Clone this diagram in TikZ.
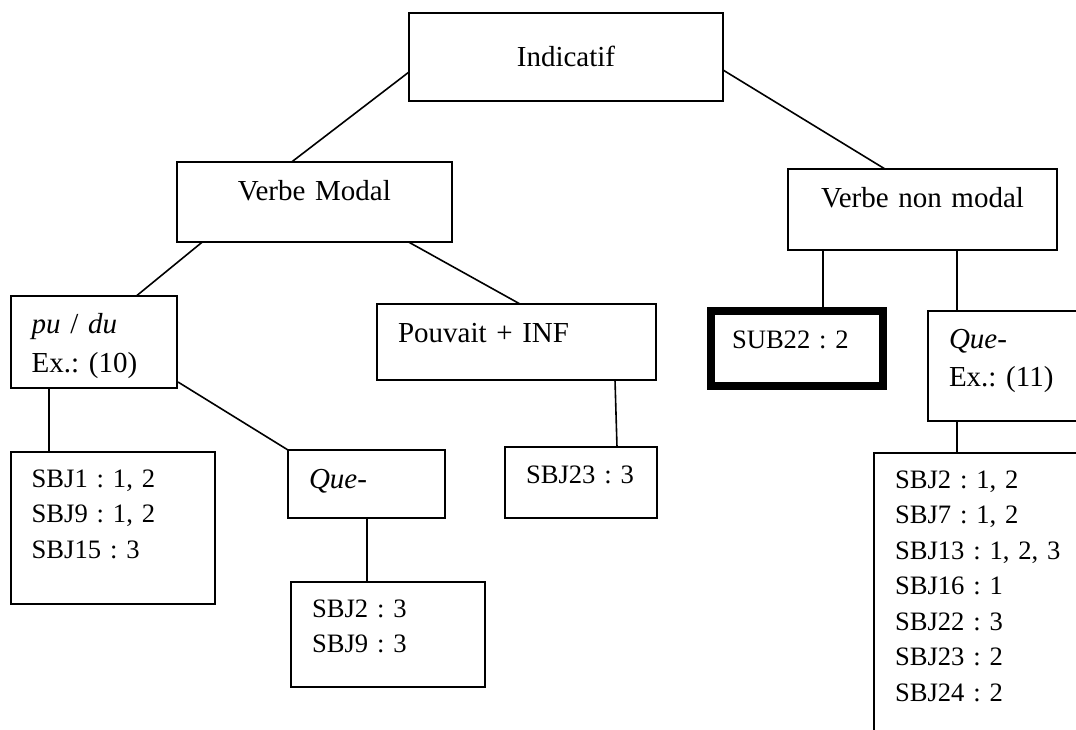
\documentclass[tikz,border=0pt]{standalone}
\usepackage{fontspec}
\setmainfont{Liberation Serif}
\frenchspacing
\usetikzlibrary{calc}
\tikzset{
  box/.style={draw, line width=2pt, anchor=north west, inner xsep=21pt, inner ysep=0pt,
    outer sep=0pt, align=left, font=\fontsize{29}{38.5}\selectfont},
  listbox/.style={box, font=\fontsize{26.6}{35.5}\selectfont},
  link/.style={line width=1.6pt}
}

\begin{document}
\begin{tikzpicture}[x=1pt,y=-1pt]
\clip (0,0) rectangle (1076,729);
\fill[white] (0,0) rectangle (1076,729);
% top of the tree
\node[box, align=center, text width=272pt, text height=54pt, text depth=34.3pt] (indic) at (409,12.7) {Indicatif};
\node[box, align=center, text width=233.3pt, text height=38.3pt, text depth=41.7pt] (vmod) at (176.7,161.7) {Verbe Modal};
\node[box, align=center, text width=227pt, text height=38pt, text depth=43pt] (vnm) at (788,169) {Verbe non modal};

% modal branch
\node[box, text width=124pt, text height=38pt, text depth=54.3pt] (pudu) at (10.7,295.7) {\textit{pu} / \textit{du}\\Ex.: (10)};
\node[box, text width=237pt, text height=38pt, text depth=38pt] (pouv) at (377,304) {Pouvait + INF};
\node[listbox, text width=162.3pt, text height=35pt, text depth=117pt] (sbj1) at (10.7,452) {SBJ1 : 1, 2\\SBJ9 : 1, 2\\SBJ15 : 3};
\node[box, text width=115pt, text height=38pt, text depth=30pt] (que1) at (288,450) {\textit{Que}-};
\node[listbox, text width=152pt, text height=35pt, text depth=70pt] (sbj29) at (291,582) {SBJ2 : 3\\SBJ9 : 3};
\node[listbox, text width=110pt, text height=36pt, text depth=35pt] (sbj23) at (505,447) {SBJ23 : 3};

% non modal branch
\node[listbox, line width=8pt, text width=130pt, text height=37pt, text depth=38pt] (sub22) at (711,311) {SUB22 : 2};
\node[box, text width=140pt, text height=37pt, text depth=73pt] (que2) at (928,311) {\textit{Que}-\\Ex.: (11)};
\node[listbox, text width=194pt, text height=35pt, text depth=272pt] (big) at (874,453) {SBJ2 : 1, 2\\SBJ7 : 1, 2\\SBJ13 : 1, 2, 3\\SBJ16 : 1\\SBJ22 : 3\\SBJ23 : 2\\SBJ24 : 2};

% the links
\draw[link] ($(indic.north west)+(0,59.3)$) -- ($(vmod.north west)+(115.3,0)$);
\draw[link] ($(indic.north east)+(0,57.3)$) -- ($(vnm.north west)+(97,0)$);
\draw[link] ($(vmod.south west)+(26,0)$) -- ($(pudu.north west)+(126,0)$);
\draw[link] ($(vmod.south west)+(231.3,0)$) -- ($(pouv.north west)+(143,0)$);
\draw[link] ($(pudu.south west)+(38.3,0)$) -- ($(sbj1.north west)+(38.3,0)$);
\draw[link] ($(pudu.south east)+(1.3,-6)$) -- (que1.north west);
\draw[link] ($(pouv.south west)+(238,0)$) -- ($(sbj23.north west)+(112,0)$);
\draw[link] ($(que1.south west)+(79,0)$) -- ($(sbj29.north west)+(76,0)$);
\draw[link] ($(vnm.south west)+(35,0)$) -- ($(sub22.north west)+(112,0)$);
\draw[link] ($(vnm.south west)+(169,0)$) -- ($(que2.north west)+(29,0)$);
\draw[link] ($(que2.south west)+(29,0)$) -- ($(big.north west)+(83,0)$);
\end{tikzpicture}
\end{document}
